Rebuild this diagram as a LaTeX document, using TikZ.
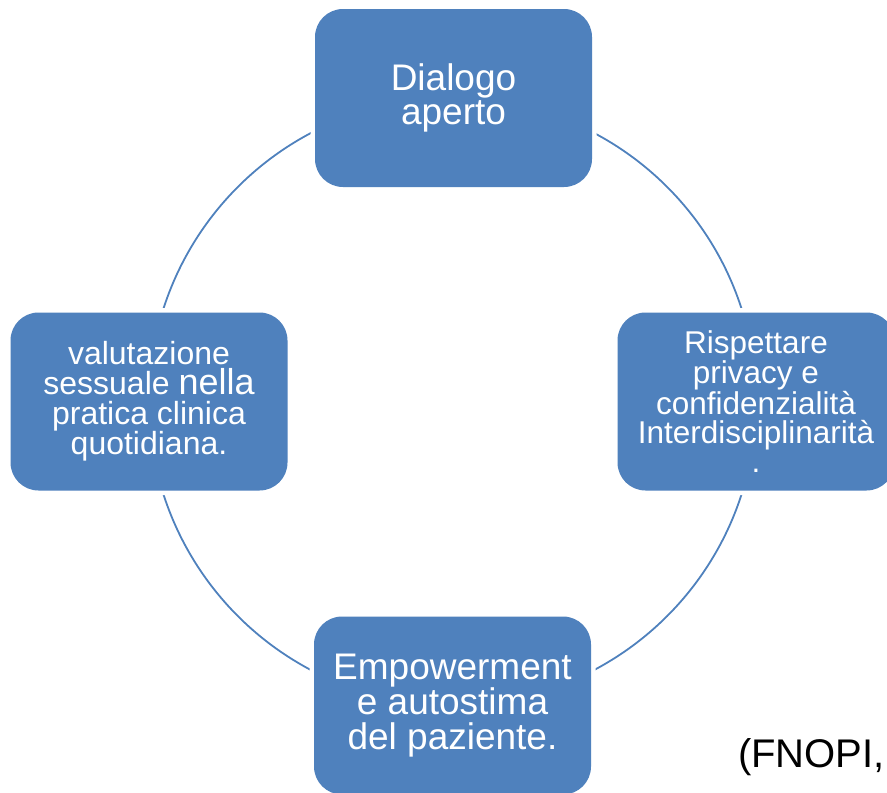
\documentclass[tikz,border=0pt]{standalone}
\usepackage{fontspec}
\setmainfont{Liberation Sans}
\usepackage{xcolor}
\usepackage{tikz}
\definecolor{boxblue}{RGB}{79,129,189}
\tikzstyle{box} = [rectangle, rounded corners=28pt, fill=boxblue, text=white, align=center, minimum width=277pt, minimum height=178pt, inner sep=0pt, preaction={draw=white, line width=9pt}]
\tikzstyle{ring} = [draw=boxblue, line width=1.8pt]

\begin{document}
\begin{tikzpicture}[line cap=round,line join=round,x=1pt,y=1pt]
                \useasboundingbox (0,0) rectangle (887,-793);
                \coordinate (centro) at (452.5,-401.5);
                \draw [ring] (centro) circle (303.5);
                \node [box, font=\fontsize{37}{33.5}\selectfont] (dialogo) at (453.5,-98) {Dialogo\\aperto};
                \node [box, font=\fontsize{31.5}{29}\selectfont] (rispetto) at (756,-401.5) {Rispettare\\privacy e\\confidenzialità\\Interdisciplinarità\\.};
                \node [box, font=\fontsize{37}{35}\selectfont] (empower) at (452.5,-705.5) {Empowerment\\e autostima\\del paziente.};
                \node [box, font=\fontsize{32}{30}\selectfont] (valutazione) at (149,-401.5) {valutazione\\sessuale {\fontsize{36}{30}\selectfont nella}\\pratica clinica\\quotidiana.};
                \node [anchor=base west, font=\fontsize{40}{48}\selectfont, inner sep=0pt] (fonte) at (738,-767) {(FNOPI,};
            \end{tikzpicture}
\end{document}
